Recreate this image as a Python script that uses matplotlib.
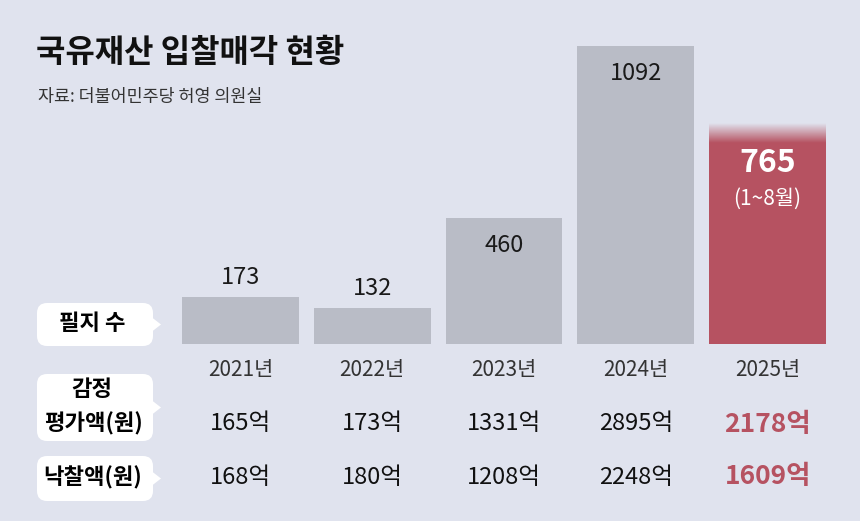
import matplotlib.pyplot as plt
import matplotlib.patches as mpatches
import matplotlib.colors as mcolors
import matplotlib.transforms as mtrans
import numpy as np

plt.rcParams['font.family'] = ['Noto Sans CJK KR', 'DejaVu Sans']

years = ['2021년', '2022년', '2023년', '2024년', '2025년']
parcels = [173, 132, 460, 1092, 765]
appraised = ['165억', '173억', '1331억', '2895억', '2178억']
sold = ['168억', '180억', '1208억', '2248억', '1609억']

BG = '#e0e3ee'
GRAY = '#b9bcc6'
RED = '#b65261'
W, H = 860, 521

fig = plt.figure(figsize=(W / 100, H / 100), dpi=100, facecolor=BG)

# bar axes in pixel placement
ymax = 1150
base_px, top_px = 344, 46
ax_h = (base_px - top_px) * ymax / max(parcels)
ax = fig.add_axes([182 / W, (H - base_px) / H, 644 / W, ax_h / H])
ax.set_facecolor('none')
x = np.arange(len(years))
width = 117 / 132
colors = [GRAY] * 4 + [RED]
ax.bar(x, parcels, width=width, color=colors)

# fade on top of last bar (background -> red, top to bottom)
fade = 70
g = np.linspace(0, 1, 60)
bg_rgb = np.array(mcolors.to_rgb(BG))
red_rgb = np.array(mcolors.to_rgb(RED))
rgba = np.ones((60, 1, 4))
rgba[:, 0, :3] = bg_rgb[None, :] * (1 - g[:, None]) + red_rgb[None, :] * g[:, None]
ax.imshow(rgba, extent=[4 - width / 2, 4 + width / 2, parcels[4] - fade + 40, parcels[4] + 40],
          aspect='auto', zorder=3, origin='upper', interpolation='bilinear')
ax.set_xlim(-width / 2, len(years) - 1 + width / 2)
ax.set_ylim(0, ymax)
ax.axis('off')

# labels: above short bars, inside tall ones
for i, v in enumerate(parcels[:4]):
    if v > 300:
        ax.text(i, v - 100, str(v), ha='center', va='center', fontsize=17, color='#1a1a1a')
    else:
        ax.text(i, v + 70, str(v), ha='center', va='center', fontsize=17, color='#1a1a1a')
ax.text(4, parcels[4] - 100, str(parcels[4]), ha='center', va='center', fontsize=23,
        fontweight='bold', color='white', zorder=4)
ax.text(4, parcels[4] - 233, '(1~8월)', ha='center', va='center', fontsize=15,
        color='white', zorder=4)

# table part: x in data, y in figure pixels from top
px = mtrans.blended_transform_factory(ax.transData, mtrans.Affine2D().scale(1, -1).translate(0, H))
fpx = mtrans.Affine2D().scale(1, -1).translate(0, H)

fig.add_artist(plt.Line2D([182, 826], [H - 345, H - 345], color='#222222', lw=1.5))
fig.add_artist(plt.Line2D([182, 826], [H - 393, H - 393], color='#222222', lw=1.3))
fig.add_artist(plt.Line2D([182, 826], [H - 452, H - 452], color='#888888', lw=0.9, ls=(0, (3, 3))))

for i in range(len(years)):
    fig.text(i, 370, years[i], transform=px, ha='center', va='center', fontsize=15,
             fontweight='light', color='#333333')
    big = i == 4
    fig.text(i, 424, appraised[i], transform=px, ha='center', va='center',
             fontsize=19 if big else 17, fontweight='bold' if big else 'normal',
             color=RED if big else '#111111')
    fig.text(i, 477, sold[i], transform=px, ha='center', va='center',
             fontsize=19 if big else 17, fontweight='bold' if big else 'normal',
             color=RED if big else '#111111')

# callout boxes
def callout(y0, y1):
    box = mpatches.FancyBboxPatch((37, H - y1), 116, y1 - y0, boxstyle='round,pad=0,rounding_size=10',
                                  fc='white', ec='none', transform=None)
    fig.add_artist(box)
    yc = H - (y0 + y1) / 2
    tri = mpatches.Polygon([[152, yc + 7], [161, yc], [152, yc - 7]], closed=True, fc='white',
                           ec='none', transform=None)
    fig.add_artist(tri)

callout(303, 346)
callout(374, 441)
callout(456, 501)
fig.text(92, 324, '필지 수', transform=fpx, ha='center', va='center', fontsize=16, fontweight='bold')
fig.text(92, 389, '감정', transform=fpx, ha='center', va='center', fontsize=16, fontweight='bold')
fig.text(93, 424, '평가액(원)', transform=fpx, ha='center', va='center', fontsize=16, fontweight='bold')
fig.text(93, 478, '낙찰액(원)', transform=fpx, ha='center', va='center', fontsize=16, fontweight='bold')

fig.text(36, 53, '국유재산 입찰매각 현황', transform=fpx, ha='left', va='center', fontsize=23,
         fontweight='bold', color='#111111')
fig.text(38, 97, '자료: 더불어민주당 허영 의원실', transform=fpx, ha='left', va='center',
         fontsize=12.5, color='#333333')

fig.savefig('out.png', dpi=100, facecolor=BG)
